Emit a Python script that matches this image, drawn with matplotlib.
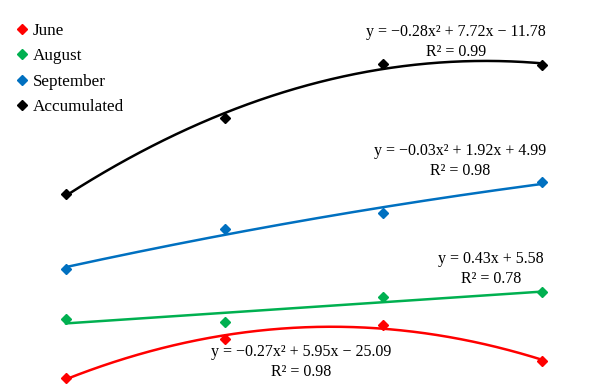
import numpy as np
import matplotlib
matplotlib.use("Agg")
import matplotlib.pyplot as plt

# four sampling points (arbitrary units, axes hidden)
x = [0, 1, 2, 3]
june = [0.6, 4.5, 5.9, 2.3]
august = [6.5, 6.2, 8.7, 9.2]
september = [11.5, 15.5, 17.1, 20.2]
accumulated = [19.0, 26.6, 32.0, 31.9]

names = ["June", "August", "September", "Accumulated"]
colors = ["#ff0000", "#00b050", "#0070c0", "#000000"]
degrees = [2, 1, 2, 2]
equations = [
    "y = \u22120.27x\u00b2 + 5.95x \u2212 25.09\nR\u00b2 = 0.98",
    "y = 0.43x + 5.58\nR\u00b2 = 0.78",
    "y = \u22120.03x\u00b2 + 1.92x + 4.99\nR\u00b2 = 0.98",
    "y = \u22120.28x\u00b2 + 7.72x \u2212 11.78\nR\u00b2 = 0.99",
]
# label centres in figure pixels (x, y from top)
label_pos = [(301, 362), (491, 269), (460, 161), (456, 42)]

plt.rcParams["font.family"] = ["Liberation Serif", "DejaVu Serif"]

fig = plt.figure(figsize=(6.06, 3.84), dpi=100)
ax = fig.add_axes([0, 0, 1, 1])
ax.set_xlim(-66 / 158.67, 3 + 64 / 158.67)
ax.set_ylim(0, 38.4)
ax.axis("off")

series = [june, august, september, accumulated]
xs = np.linspace(0, 3, 200)
for y, name, c, d in zip(series, names, colors, degrees):
    coef = np.polyfit(x, y, d)
    ax.plot(xs, np.polyval(coef, xs), color=c, lw=1.8, zorder=2)
    ax.plot(x, y, "D", color=c, ms=5, label=name, zorder=3)

for eq, (px, py) in zip(equations, label_pos):
    fig.text(px / 606, 1 - py / 384, eq, ha="center", va="center",
             fontsize=11.5, linespacing=1.3)

ax.legend(loc="upper left", bbox_to_anchor=(0.0, 0.98), frameon=False,
          fontsize=12.3, handlelength=0.8, handletextpad=0.2,
          labelspacing=0.55, borderaxespad=0.5)

fig.savefig("out.png", dpi=100)
